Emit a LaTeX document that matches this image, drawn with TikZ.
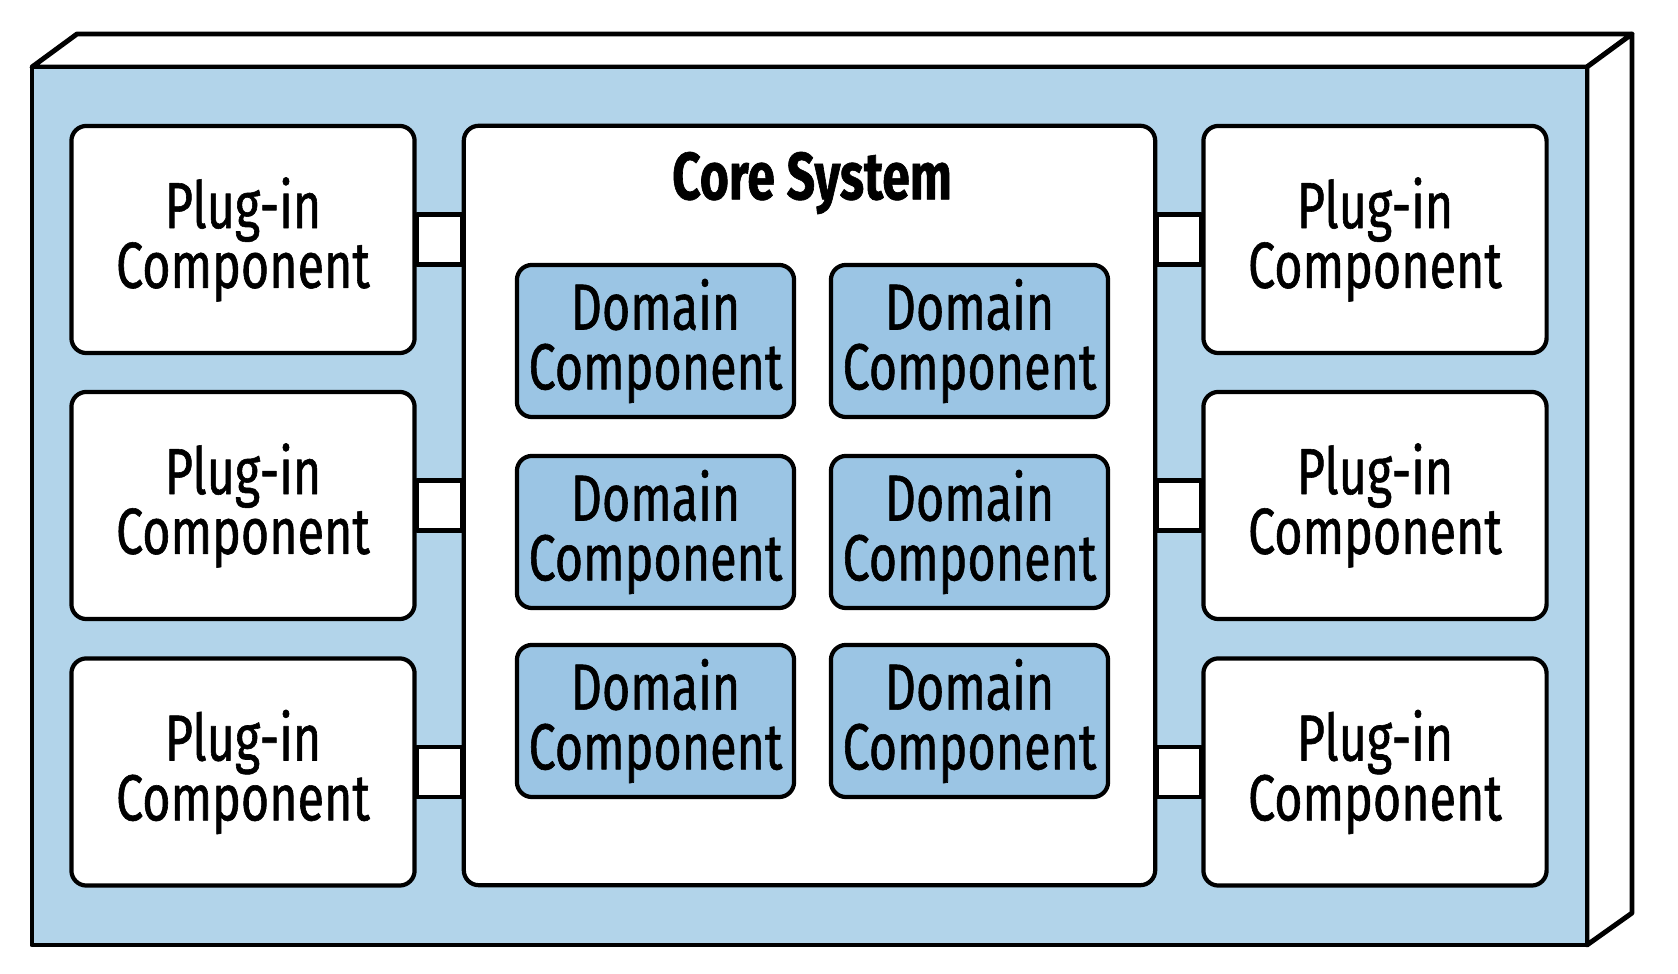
\documentclass[tikz,border=0pt]{standalone}
\usepackage{fontspec}
\setmainfont{Fira Sans}[FakeStretch=0.745, FakeBold=0.9]
\usepackage{tikz}
\usetikzlibrary{calc}

\definecolor{outerblue}{HTML}{B2D4EA}
\definecolor{domainblue}{HTML}{9BC5E4}

\begin{document}
\begin{tikzpicture}[x=0.01cm, y=-0.01cm, line join=round,
        plugin/.style = {draw=black, line width=1.2pt, fill=white, rounded corners=0.15cm,
            minimum width=3.43cm, minimum height=2.27cm, inner sep=0pt, align=center,
            font = {\fontsize{18.5}{17}\selectfont}},
        domainbox/.style = {plugin, fill=domainblue, minimum width=2.77cm, minimum height=1.52cm},
        corebox/.style = {plugin, minimum width=6.91cm, minimum height=7.59cm},
        socket/.style = {draw=black, line width=1.2pt, fill=white}]
        \useasboundingbox (0,0) rectangle (1678,974);

        % node box
        \draw[line width=1.4pt, fill=white] (32,67) -- (77,34) -- (1632,34) -- (1587,67) -- cycle;
        \draw[line width=1.4pt, fill=white] (1587,67) -- (1632,34) -- (1632,913) -- (1587,945) -- cycle;
        \draw[line width=1.4pt, fill=outerblue] (32,67) rectangle (1587,945);

        \node[corebox] (core) at (809.5, 505.5) {};
        \node[font = {\bfseries\fontsize{19}{17}\selectfont}] (title) at (812, 183) {Core System};

        \node[plugin] (pl1) at (243, 239.5) {Plug-in\\Component};
        \node[plugin] (pl2) at (243, 505.5) {Plug-in\\Component};
        \node[plugin] (pl3) at (243, 772) {Plug-in\\Component};
        \node[plugin] (pr1) at (1375, 239.5) {Plug-in\\Component};
        \node[plugin] (pr2) at (1375, 505.5) {Plug-in\\Component};
        \node[plugin] (pr3) at (1375, 772) {Plug-in\\Component};

        \node[domainbox] (d11) at (655.5, 341) {Domain\\Component};
        \node[domainbox] (d12) at (969.5, 341) {Domain\\Component};
        \node[domainbox] (d21) at (655.5, 532) {Domain\\Component};
        \node[domainbox] (d22) at (969.5, 532) {Domain\\Component};
        \node[domainbox] (d31) at (655.5, 721) {Domain\\Component};
        \node[domainbox] (d32) at (969.5, 721) {Domain\\Component};

        % plug-in contracts
        \foreach \r in {1,2,3} {
            \draw[socket] ([yshift=0.25cm]pl\r.east) rectangle ([yshift=-0.25cm]pl\r.east -| core.west);
            \draw[socket] ([yshift=0.25cm]pr\r.west) rectangle ([yshift=-0.25cm]pr\r.west -| core.east);
        }
    \end{tikzpicture}
\end{document}
